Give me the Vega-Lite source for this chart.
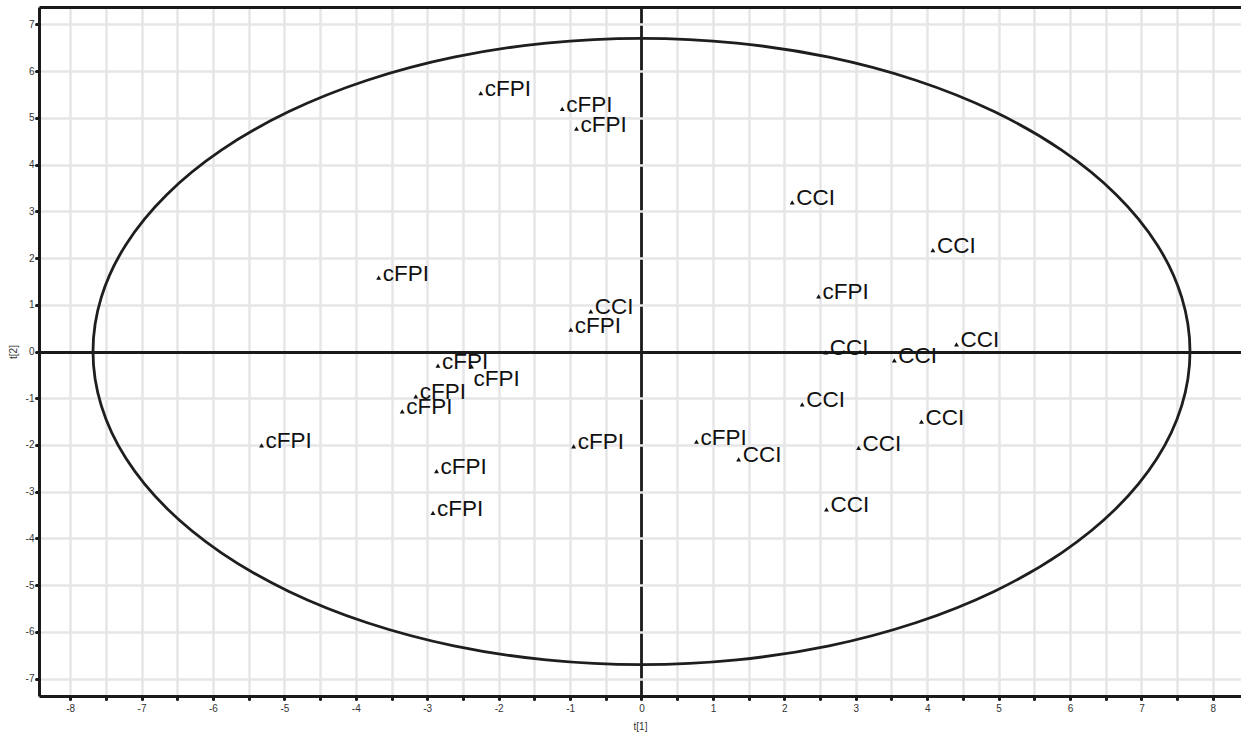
{
  "$schema": "https://vega.github.io/schema/vega-lite/v6.json",
  "width": 1202,
  "height": 689,
  "autosize": "none",
  "padding": {"left": 39, "top": 7, "right": 0, "bottom": 40},
  "background": "white",
  "config": {"view": {"stroke": null}},
  "datasets": {
    "pts": [
      {"id": 1, "x": -2.25, "y": 5.53, "label": "cFPI"},
      {"id": 2, "x": -1.11, "y": 5.19, "label": "cFPI"},
      {"id": 3, "x": -0.91, "y": 4.77, "label": "cFPI"},
      {"id": 4, "x": -3.68, "y": 1.58, "label": "cFPI"},
      {"id": 5, "x": -0.71, "y": 0.86, "label": "CCI"},
      {"id": 6, "x": -0.99, "y": 0.47, "label": "cFPI"},
      {"id": 7, "x": -2.85, "y": -0.30, "label": "cFPI"},
      {"id": 8, "x": -2.38, "y": -0.32, "label": "cFPI"},
      {"id": 9, "x": -3.16, "y": -0.96, "label": "cFPI"},
      {"id": 10, "x": -3.35, "y": -1.28, "label": "cFPI"},
      {"id": 11, "x": -5.32, "y": -2.01, "label": "cFPI"},
      {"id": 12, "x": -2.87, "y": -2.56, "label": "cFPI"},
      {"id": 13, "x": -2.92, "y": -3.45, "label": "cFPI"},
      {"id": 14, "x": -0.95, "y": -2.03, "label": "cFPI"},
      {"id": 15, "x": 0.77, "y": -1.93, "label": "cFPI"},
      {"id": 16, "x": 1.36, "y": -2.31, "label": "CCI"},
      {"id": 17, "x": 2.25, "y": -1.13, "label": "CCI"},
      {"id": 18, "x": 3.04, "y": -2.06, "label": "CCI"},
      {"id": 19, "x": 2.59, "y": -3.38, "label": "CCI"},
      {"id": 20, "x": 3.92, "y": -1.50, "label": "CCI"},
      {"id": 21, "x": 2.11, "y": 3.19, "label": "CCI"},
      {"id": 22, "x": 4.08, "y": 2.17, "label": "CCI"},
      {"id": 23, "x": 2.48, "y": 1.18, "label": "cFPI"},
      {"id": 24, "x": 2.58, "y": -0.02, "label": "CCI"},
      {"id": 25, "x": 3.54, "y": -0.19, "label": "CCI"},
      {"id": 26, "x": 4.41, "y": 0.15, "label": "CCI"}
    ],
    "ell": [
      {"k": 0, "x": 7.68, "y": 0},
      {"k": 1, "x": 7.563, "y": 1.163},
      {"k": 2, "x": 7.217, "y": 2.291},
      {"k": 3, "x": 6.651, "y": 3.35},
      {"k": 4, "x": 5.883, "y": 4.307},
      {"k": 5, "x": 4.937, "y": 5.132},
      {"k": 6, "x": 3.84, "y": 5.802},
      {"k": 7, "x": 2.627, "y": 6.296},
      {"k": 8, "x": 1.333, "y": 6.598},
      {"k": 9, "x": 0, "y": 6.7},
      {"k": 10, "x": -1.333, "y": 6.598},
      {"k": 11, "x": -2.627, "y": 6.296},
      {"k": 12, "x": -3.84, "y": 5.802},
      {"k": 13, "x": -4.937, "y": 5.132},
      {"k": 14, "x": -5.883, "y": 4.307},
      {"k": 15, "x": -6.651, "y": 3.35},
      {"k": 16, "x": -7.217, "y": 2.291},
      {"k": 17, "x": -7.563, "y": 1.163},
      {"k": 18, "x": -7.68, "y": 0},
      {"k": 19, "x": -7.563, "y": -1.163},
      {"k": 20, "x": -7.217, "y": -2.291},
      {"k": 21, "x": -6.651, "y": -3.35},
      {"k": 22, "x": -5.883, "y": -4.307},
      {"k": 23, "x": -4.937, "y": -5.132},
      {"k": 24, "x": -3.84, "y": -5.802},
      {"k": 25, "x": -2.627, "y": -6.296},
      {"k": 26, "x": -1.333, "y": -6.598},
      {"k": 27, "x": 0, "y": -6.7},
      {"k": 28, "x": 1.333, "y": -6.598},
      {"k": 29, "x": 2.627, "y": -6.296},
      {"k": 30, "x": 3.84, "y": -5.802},
      {"k": 31, "x": 4.937, "y": -5.132},
      {"k": 32, "x": 5.883, "y": -4.307},
      {"k": 33, "x": 6.651, "y": -3.35},
      {"k": 34, "x": 7.217, "y": -2.291},
      {"k": 35, "x": 7.563, "y": -1.163}
    ]
  },
  "layer": [
    {
      "data": {"name": "ell"},
      "mark": {"type": "line", "interpolate": "cardinal-closed", "stroke": "#1e1e1e", "strokeWidth": 2.8},
      "encoding": {
        "x": {
          "field": "x", "type": "quantitative",
          "scale": {"domain": [-8.436, 8.394], "nice": false, "zero": false},
          "axis": {
            "orient": "bottom",
            "values": [-8, -7.5, -7, -6.5, -6, -5.5, -5, -4.5, -4, -3.5, -3, -2.5, -2, -1.5, -1, -0.5, 0, 0.5, 1, 1.5, 2, 2.5, 3, 3.5, 4, 4.5, 5, 5.5, 6, 6.5, 7, 7.5, 8],
            "labelExpr": "datum.value % 1 === 0 ? '' + datum.value : ''",
            "grid": true,
            "gridColor": {"condition": {"test": "datum.value === 0", "value": "#1a1a1a"}, "value": "#e6e6e8"},
            "gridWidth": {"condition": {"test": "datum.value === 0", "value": 2.8}, "value": 2.5},
            "domainColor": "#1a1a1a", "domainWidth": 3,
            "tickColor": "#1a1a1a", "tickWidth": 3, "tickSize": 3, "tickCap": "round",
            "labelFont": "Liberation Sans", "labelFontSize": 10, "labelColor": "#333333", "labelPadding": 4,
            "title": "t[1]", "titleFont": "Liberation Sans", "titleFontSize": 10, "titleFontWeight": "normal", "titleColor": "#333333", "titlePadding": 8
          }
        },
        "y": {
          "field": "y", "type": "quantitative",
          "scale": {"domain": [-7.37, 7.37], "nice": false, "zero": false},
          "axis": {
            "values": [-7, -6.5, -6, -5.5, -5, -4.5, -4, -3.5, -3, -2.5, -2, -1.5, -1, -0.5, 0, 0.5, 1, 1.5, 2, 2.5, 3, 3.5, 4, 4.5, 5, 5.5, 6, 6.5, 7],
            "labelExpr": "datum.value % 1 === 0 ? '' + datum.value : ''",
            "grid": true,
            "gridOpacity": {"condition": {"test": "datum.value % 1 !== 0", "value": 0}, "value": 1},
            "gridColor": {"condition": {"test": "datum.value === 0", "value": "#1a1a1a"}, "value": "#e6e6e8"},
            "gridWidth": {"condition": {"test": "datum.value === 0", "value": 2.8}, "value": 2.5},
            "domainColor": "#1a1a1a", "domainWidth": 3,
            "tickColor": "#1a1a1a", "tickWidth": 3, "tickSize": 3, "tickCap": "round",
            "labelFont": "Liberation Sans", "labelFontSize": 10, "labelColor": "#333333", "labelPadding": 2,
            "title": "t[2]", "titleFont": "Liberation Sans", "titleFontSize": 10, "titleFontWeight": "normal", "titleColor": "#333333", "titlePadding": 7
          }
        },
        "order": {"field": "k", "type": "quantitative"}
      }
    },
    {
      "data": {"name": "pts"},
      "mark": {"type": "point", "shape": "triangle-up", "filled": true, "size": 24, "color": "#111111", "opacity": 1},
      "encoding": {
        "x": {
          "field": "x", "type": "quantitative",
          "scale": {"domain": [-8.436, 8.394], "nice": false, "zero": false},
          "axis": {"orient": "top", "domain": true, "domainColor": "#1a1a1a", "domainWidth": 3, "ticks": false, "labels": false, "grid": false, "title": null}
        },
        "y": {"field": "y", "type": "quantitative", "scale": {"domain": [-7.37, 7.37], "nice": false, "zero": false}}
      }
    },
    {
      "data": {"name": "pts"},
      "transform": [{"filter": "datum.id !== 8"}],
      "mark": {"type": "text", "align": "left", "baseline": "alphabetic", "dx": 4, "dy": 3, "font": "Liberation Sans", "fontSize": 22.5, "color": "#111111"},
      "encoding": {
        "x": {"field": "x", "type": "quantitative", "scale": {"domain": [-8.436, 8.394], "nice": false, "zero": false}, "axis": null},
        "y": {"field": "y", "type": "quantitative", "scale": {"domain": [-7.37, 7.37], "nice": false, "zero": false}},
        "text": {"field": "label"}
      }
    },
    {
      "data": {"name": "pts"},
      "transform": [{"filter": "datum.id === 8"}],
      "mark": {"type": "text", "align": "left", "baseline": "alphabetic", "dx": 2, "dy": 20, "font": "Liberation Sans", "fontSize": 22.5, "color": "#111111"},
      "encoding": {
        "x": {"field": "x", "type": "quantitative", "scale": {"domain": [-8.436, 8.394], "nice": false, "zero": false}, "axis": null},
        "y": {"field": "y", "type": "quantitative", "scale": {"domain": [-7.37, 7.37], "nice": false, "zero": false}},
        "text": {"field": "label"}
      }
    }
  ],
  "resolve": {"axis": {"x": "independent"}}
}
